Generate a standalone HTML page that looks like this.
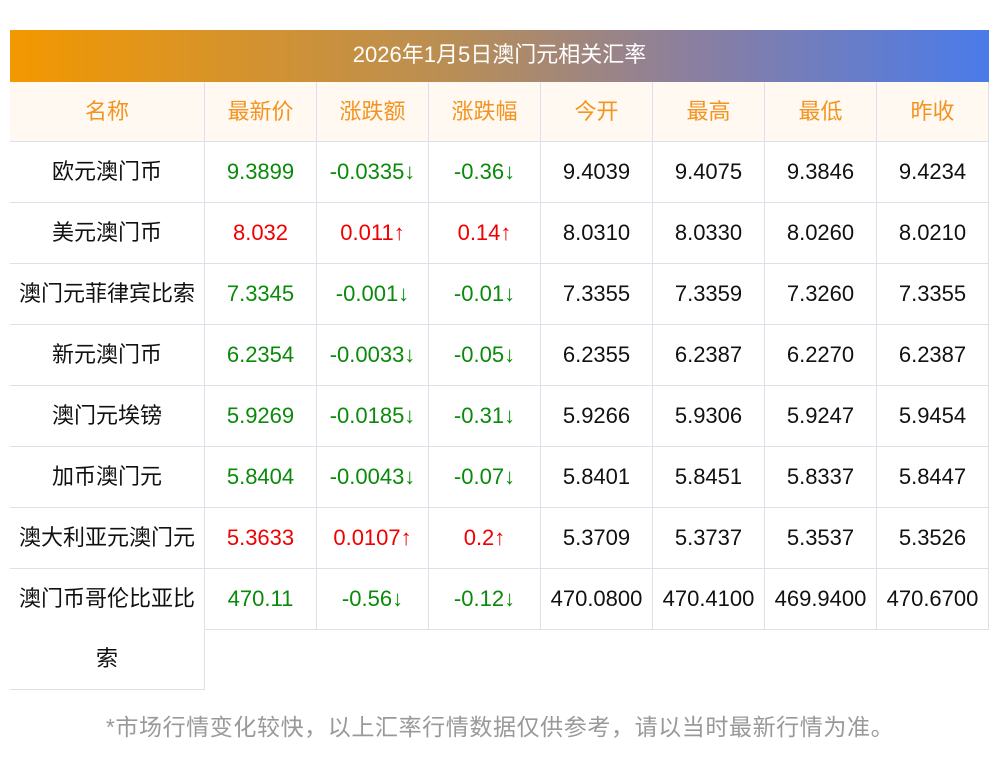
<!DOCTYPE html>
<html><head><meta charset="utf-8"><style>
body{margin:0;width:1000px;height:757px;background:#fff;font-family:"Liberation Sans","Noto Sans CJK SC",sans-serif;position:relative;overflow:hidden}
.t{position:absolute;left:10px;top:30px;width:979px;height:52px;background:linear-gradient(90deg,#f39800,#b98e55 45%,#8a7fa0 70%,#4a7bea);color:#fff;font-size:22px;line-height:50px;text-align:center}
.c{position:absolute;box-sizing:border-box;border-right:1px solid #dde0e8;border-bottom:1px solid #dde0e8;text-align:center;font-size:22px;display:flex;align-items:center;justify-content:center;color:#111;line-height:1}
.h{background:#fff9f2;color:#f39320;font-size:22px}
.g{color:#0a8a0a}.r{color:#f00000}
.f{position:absolute;left:0;width:1000px;top:708px;text-align:center;color:#999;font-size:23px;letter-spacing:0.6px}
</style></head><body>
<div class="t">2026年1月5日澳门元相关汇率</div>
<div id="tb"></div>
<div class="f">*市场行情变化较快，以上汇率行情数据仅供参考，请以当时最新行情为准。</div>
<script>
const xs=[10,205,317,429,541,653,765,877,989];
const head=["名称","最新价","涨跌额","涨跌幅","今开","最高","最低","昨收"];
const rows=[
["欧元澳门币","9.3899","-0.0335↓","-0.36↓","9.4039","9.4075","9.3846","9.4234","g"],
["美元澳门币","8.032","0.011↑","0.14↑","8.0310","8.0330","8.0260","8.0210","r"],
["澳门元菲律宾比索","7.3345","-0.001↓","-0.01↓","7.3355","7.3359","7.3260","7.3355","g"],
["新元澳门币","6.2354","-0.0033↓","-0.05↓","6.2355","6.2387","6.2270","6.2387","g"],
["澳门元埃镑","5.9269","-0.0185↓","-0.31↓","5.9266","5.9306","5.9247","5.9454","g"],
["加币澳门元","5.8404","-0.0043↓","-0.07↓","5.8401","5.8451","5.8337","5.8447","g"],
["澳大利亚元澳门元","5.3633","0.0107↑","0.2↑","5.3709","5.3737","5.3537","5.3526","r"],
["澳门币哥伦比亚比索","470.11","-0.56↓","-0.12↓","470.0800","470.4100","469.9400","470.6700","g"]];
let h="";
function cell(i,y,hh,txt,cls){h+=`<div class="c ${cls}" style="left:${xs[i]}px;top:${y}px;width:${xs[i+1]-xs[i]}px;height:${hh}px">${txt}</div>`;}
head.forEach((t,i)=>cell(i,82,60,t,"h"));
rows.forEach((r,k)=>{const y=142+k*61;
 r.slice(0,8).forEach((t,i)=>{
  let hh=61,txt=t;
  if(k==7&&i==0){hh=121;txt='<div style="line-height:60px;width:190px">澳门币哥伦比亚比<br>索</div>';}
  cell(i,y,hh,txt,i==0?"":(i<4?r[8]:""));
 });});
document.getElementById("tb").innerHTML=h;
</script>
</body></html>
